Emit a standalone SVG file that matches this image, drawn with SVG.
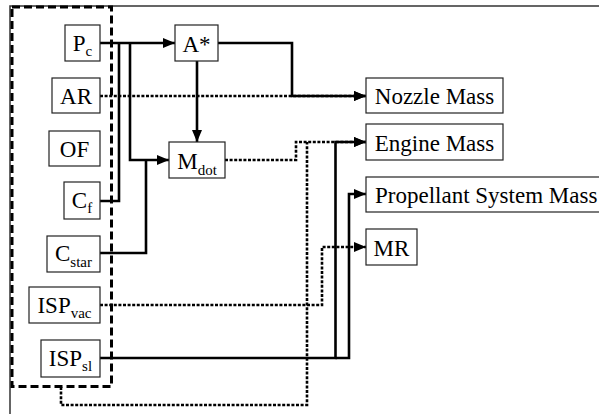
<svg xmlns="http://www.w3.org/2000/svg" width="599" height="414" viewBox="0 0 599 414">
<defs>
<style>
.box{fill:#fff;stroke:#222;stroke-width:1.2}
.t{font-family:"Liberation Serif","Times New Roman",serif;font-size:23px;fill:#000}
.s{font-size:15px}
.solid{fill:none;stroke:#000;stroke-width:2.6}
.dot{fill:none;stroke:#000;stroke-width:2.6;stroke-dasharray:3 1.6}
.dash{fill:none;stroke:#000;stroke-width:3;stroke-dasharray:8 4}
.frame{fill:none;stroke:#333;stroke-width:1.5}
</style>
<marker id="ah" markerUnits="userSpaceOnUse" markerWidth="12" markerHeight="10" refX="12" refY="5" orient="auto">
<path d="M0,0 L12,5 L0,10 z" fill="#000"/>
</marker>
</defs>
<rect width="599" height="414" fill="#fff"/>
<path class="frame" d="M10,414 V6 H599"/>
<g id="connectors">
<path class="dash" d="M12,7 H111.5 V386.5 H12 Z"/>
<path class="solid" d="M100,43 H175" marker-end="url(#ah)"/>
<path class="solid" d="M100,201 H119 V43"/>
<path class="solid" d="M130,43 V160 H169" marker-end="url(#ah)"/>
<path class="solid" d="M100,253 H146 V160"/>
<path class="solid" d="M197,61 V142" marker-end="url(#ah)"/>
<path class="solid" d="M218,43 H292 V96 H366" marker-end="url(#ah)"/>
<path class="dot" d="M100,96 H366" marker-end="url(#ah)"/>
<path class="dot" d="M225,160 H296 V142 H366" marker-end="url(#ah)"/>
<path class="dot" d="M61,387 V405 H307 V142"/>
<path class="dot" d="M100,305 H322 V247 H366" marker-end="url(#ah)"/>
<path class="solid" d="M100,358 H335.5 V142 H366" marker-end="url(#ah)"/>
<path class="solid" d="M335.5,358 H349 V194 H366" marker-end="url(#ah)"/>
</g>
<g id="Pc"><rect class="box" x="65" y="25" width="35" height="36"/><text class="t" x="82.5" y="51" text-anchor="middle">P<tspan class="s" dy="5">c</tspan></text></g>
<g id="AR"><rect class="box" x="52" y="78" width="48" height="35"/><text class="t" x="76" y="104" text-anchor="middle">AR</text></g>
<g id="OF"><rect class="box" x="49" y="131" width="51" height="35"/><text class="t" x="74.5" y="157" text-anchor="middle">OF</text></g>
<g id="Cf"><rect class="box" x="64" y="182" width="36" height="37"/><text class="t" x="82" y="208" text-anchor="middle">C<tspan class="s" dy="5">f</tspan></text></g>
<g id="Cstar"><rect class="box" x="47" y="236" width="53" height="36"/><text class="t" x="73.5" y="261" text-anchor="middle">C<tspan class="s" dy="6">star</tspan></text></g>
<g id="ISPvac"><rect class="box" x="29" y="287" width="71" height="36"/><text class="t" x="64.5" y="313" text-anchor="middle">ISP<tspan class="s" dy="5">vac</tspan></text></g>
<g id="ISPsl"><rect class="box" x="41" y="340" width="59" height="37"/><text class="t" x="70.5" y="366" text-anchor="middle">ISP<tspan class="s" dy="5">sl</tspan></text></g>
<g id="Astar"><rect class="box" x="175" y="25" width="43" height="36"/><text class="t" x="196.5" y="52" text-anchor="middle">A*</text></g>
<g id="Mdot"><rect class="box" x="169" y="142" width="56" height="36"/><text class="t" x="197" y="169" text-anchor="middle">M<tspan class="s" dy="6">dot</tspan></text></g>
<g id="NozzleMass"><rect class="box" x="366" y="78" width="137" height="35"/><text class="t" x="434.5" y="104" text-anchor="middle">Nozzle Mass</text></g>
<g id="EngineMass"><rect class="box" x="366" y="124" width="137" height="36"/><text class="t" x="434.5" y="150.5" text-anchor="middle">Engine Mass</text></g>
<g id="PropellantSystemMass"><rect class="box" x="366" y="177" width="240" height="35"/><text class="t" x="375" y="203">Propellant System Mass</text></g>
<g id="MR"><rect class="box" x="366" y="229" width="51" height="36"/><text class="t" x="391.5" y="255.5" text-anchor="middle">MR</text></g>
</svg>
